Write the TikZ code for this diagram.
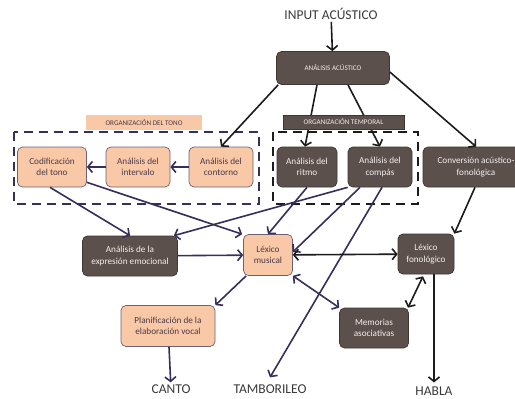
\documentclass[tikz,border=0pt]{standalone}
\usepackage{fontspec}
\setmainfont{Carlito}
\usetikzlibrary{arrows.meta,shapes,positioning}
\definecolor{oscuro}{HTML}{5B504C}
\definecolor{bordeosc}{HTML}{3E3633}
\definecolor{textoosc}{HTML}{F4EFEF}
\definecolor{melocoton}{HTML}{F9C9A7}
\definecolor{bordemel}{HTML}{6E5F72}
\definecolor{textomel}{HTML}{4A3A48}
\definecolor{marino}{HTML}{352F5C}
\definecolor{negro}{HTML}{1C1C1C}
\definecolor{titulo}{HTML}{3A3A3A}

\begin{document}
\begin{tikzpicture}[x=1pt, y=-1pt, inner sep=2pt, font=\fontsize{9.2}{11.5}\selectfont]
    \tikzstyle{osc}=[rectangle, rounded corners=5pt, fill=oscuro, draw=bordeosc, text=textoosc, align=center, line width=0.7pt]
    \tikzstyle{mel}=[rectangle, rounded corners=5pt, fill=melocoton, draw=bordemel, text=textomel, align=center, line width=0.7pt]
    \tikzstyle{rotulo}=[rectangle, inner sep=0pt, font=\fontsize{7.1}{8}\selectfont]
    \tikzstyle{salida}=[text=titulo, font=\fontsize{13.5}{15}\selectfont]
    \tikzstyle{N}=[->, draw=marino, line width=1.6pt, >={Straight Barb[length=4.5pt,width=11pt]}]
    \tikzstyle{NN}=[<->, draw=marino, line width=1.6pt, >={Straight Barb[length=4.5pt,width=11pt]}]
    \tikzstyle{K}=[->, draw=negro, line width=1.6pt, >={Straight Barb[length=4.5pt,width=11pt]}]
    \tikzstyle{KK}=[<->, draw=negro, line width=1.6pt, >={Straight Barb[length=4.5pt,width=11pt]}]
    \tikzstyle{grupo}=[dash pattern=on 9pt off 6pt, line width=2.4pt]

    \useasboundingbox (0,0) rectangle (515,399);

    % grupos
    \draw[grupo, draw=marino] (14,132) rectangle (259,204);
    \draw[grupo, draw=negro] (273,132) rectangle (418,204);

    \node[salida] (input) at (331,14) {INPUT ACÚSTICO};
    \node[osc, minimum width=113pt, minimum height=33pt, font=\fontsize{7.1}{8}\selectfont] (acu) at (333,68) {ANÁLISIS ACÚSTICO};

    \node[mel, minimum width=69pt, minimum height=40pt] (cod) at (52,167) {Codificación\\del tono};
    \node[mel, minimum width=64pt, minimum height=40pt] (inter) at (138,167) {Análisis del\\intervalo};
    \node[mel, minimum width=64pt, minimum height=40pt] (cont) at (221,167) {Análisis del\\contorno};
    \node[osc, minimum width=60pt, minimum height=40pt] (ritmo) at (307,167) {Análisis del\\ritmo};
    \node[osc, minimum width=64pt, minimum height=40pt] (compas) at (380,167) {Análisis del\\compás};
    \node[osc, minimum width=106pt, minimum height=40pt] (conv) at (476,167) {Conversión acústico-\\fonológica};

    \node[osc, minimum width=95pt, minimum height=40pt] (emo) at (130,256) {Análisis de la\\expresión emocional};
    \node[mel, minimum width=49pt, minimum height=41pt] (lexm) at (268,255) {Léxico\\musical};
    \node[osc, minimum width=56pt, minimum height=40pt] (lexf) at (426,254) {Léxico\\fonológico};
    \node[osc, minimum width=69pt, minimum height=40pt] (mem) at (374,328) {Memorias\\asociativas};
    \node[mel, minimum width=94pt, minimum height=41pt] (plan) at (168,326) {Planificación de la\\elaboración vocal};

    \node[salida] (canto) at (171,389) {CANTO};
    \node[salida] (tambor) at (270,389) {TAMBORILEO};
    \node[salida] (habla) at (434,391) {HABLA};

    % conexiones
    \draw[K] (input) to (acu);
    \draw[K] ([xshift=2pt] acu.south west) to (cont.north);
    \draw[K] ([xshift=-16pt] acu.south) to ([xshift=-2pt] ritmo.north);
    \draw[K] ([xshift=15pt] acu.south) to (compas.north);
    \draw[K] ([yshift=-4pt] acu.east) to (conv.north);
    \draw[N] (cont) to (inter);
    \draw[N] (inter) to (cod);
    \draw[N] ([xshift=-2pt] cod.south) to (emo.north);
    \draw[N] ([yshift=5pt] cod.south east) to ([xshift=-1pt] lexm.north west);
    \draw[N] (compas.south west) to ([xshift=-4pt] emo.north east);
    \draw[N] (ritmo.south) to (lexm.north);
    \draw[N] ([xshift=-20pt] compas.south) to ([yshift=3pt] lexm.east);
    \draw[N] ([xshift=2pt] compas.south) to ([yshift=5pt] tambor.north);
    \draw[N] (emo) to (lexm);
    \draw[KK] (lexm) to (lexf);
    \draw[NN] (lexm.south east) to (mem.north west);
    \draw[N] ([xshift=3pt] lexm.south west) to (plan.north east);
    \draw[N] (plan) to (canto);
    \draw[K] ([xshift=-1pt] conv.south) to (lexf.north east);
    \draw[KK] ([xshift=-3pt, yshift=-2pt] lexf.south) to ([xshift=34pt] mem.north);
    \draw[K] ([xshift=8pt] lexf.south) to ([yshift=2pt] habla.north);

    % rotulos de grupo
    \node[rotulo, fill=melocoton, text=textomel, minimum width=116pt, minimum height=15pt] (tonoRot) at (144,122.5) {ORGANIZACIÓN DEL TONO};
    \node[rotulo, fill=oscuro, draw=bordeosc, text=textoosc, minimum width=121pt, minimum height=14pt] (tempRot) at (343.5,122) {ORGANIZACIÓN TEMPORAL};
\end{tikzpicture}
\end{document}
